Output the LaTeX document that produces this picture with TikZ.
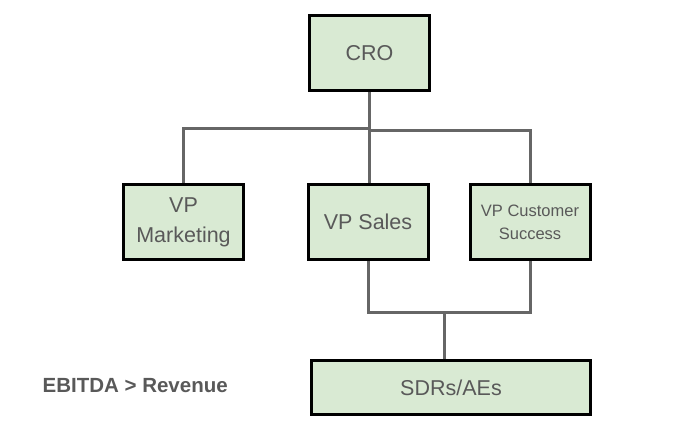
\documentclass[tikz,border=0pt]{standalone}
\usepackage{fontspec}
\setmainfont{Liberation Sans}
\usetikzlibrary{positioning}
\usetikzlibrary{backgrounds}
\definecolor{boxfill}{HTML}{D9EAD3}
\definecolor{textgray}{HTML}{595959}
\definecolor{linegray}{HTML}{666666}

\begin{document}
\begin{tikzpicture}[x=1pt,
        y=-1pt,
        semithick,
        every node/.style={text=textgray},
        role/.style={draw=black,line width=3pt,fill=boxfill,minimum width=120pt,minimum height=75pt,align=center,inner sep=2pt,font=\fontsize{21.5}{30}\selectfont},
        link/.style={draw=linegray,line width=3pt}]

      \useasboundingbox (0,0) rectangle (688,443);

      \node[role]                    (cro)      at (369.5,53.5) {CRO};
      \node[role]                    (vp_mkt)   at (183.5,222)  {VP\\Marketing};
      \node[role]                    (vp_sales) at (368,222)    {VP Sales};
      \node[role,font=\fontsize{16.5}{23}\selectfont] (vp_cs) at (530,222) {VP Customer\\Success};
      \node[role,minimum width=279pt,minimum height=54pt] (sdr) at (451,387.5) {SDRs/AEs};

      \node[font=\bfseries\fontsize{20.5}{24}\selectfont,anchor=west] (note) at (39,386) {EBITDA > Revenue};

      \coordinate (split_l) at (369,129);
      \coordinate (split_r) at (369,131);
      \coordinate (merge)   at (444,313);

      \begin{pgfonlayer}{background}
        \path[link]
        (cro.south) -- (cro.south |- vp_sales.north)
        (vp_mkt.north) |- (split_l)
        (vp_cs.north) |- (split_r)
        (vp_sales.south) |- (merge) -| (vp_cs.south)
        (merge) -- (merge |- sdr.north);
      \end{pgfonlayer}

\end{tikzpicture}
\end{document}
